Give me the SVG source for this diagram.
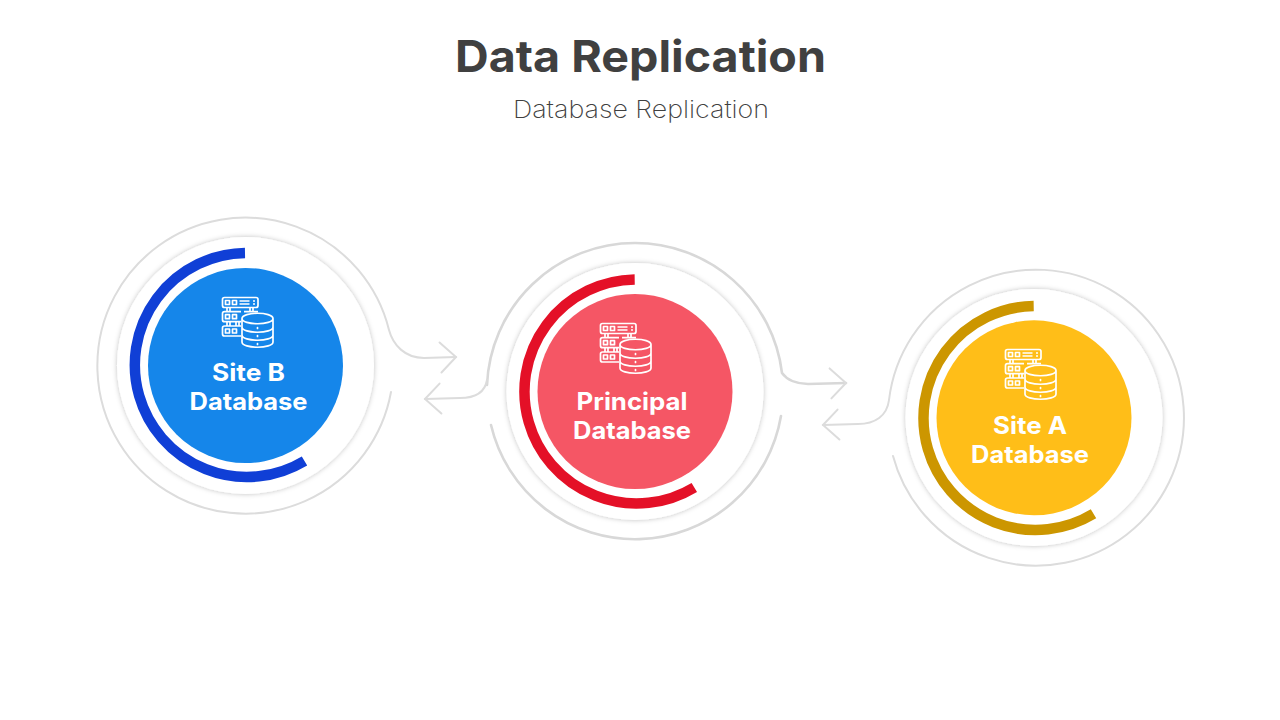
<svg xmlns="http://www.w3.org/2000/svg" width="1280" height="720" viewBox="0 0 1280 720">
<style>
.title{font:700 44px Inter,"Liberation Sans",sans-serif;fill:#404040;text-anchor:middle}
.sub{font:200 24px Inter,"Liberation Sans",sans-serif;fill:#404040;text-anchor:middle}
.lbl{font:700 24px Inter,"Liberation Sans",sans-serif;fill:#fff;text-anchor:middle}
.conn{fill:none;stroke:#dcdcdc;stroke-width:2;stroke-linecap:round}
.heavy{stroke-width:2.6;stroke:#d8d8d8}
.arc{fill:none;stroke-width:10.500}
.disc{fill:#fff;filter:url(#sh)}
.ic{fill:none;stroke:#fff;stroke-width:1.7;stroke-linejoin:round}
</style>
<defs>
<filter id="sh" x="-20%" y="-20%" width="140%" height="140%"><feDropShadow dx="0" dy="0" stdDeviation="2.500" flood-color="#000" flood-opacity=".25"/></filter>
<marker id="chev" markerUnits="userSpaceOnUse" markerWidth="40" markerHeight="40" viewBox="-20 -20 40 40" refX="0" refY="0" orient="auto" overflow="visible"><path d="M-16-15 0 0-15 15" fill="none" stroke="#dcdcdc" stroke-width="2" stroke-linecap="round"/></marker>
<g id="icon" class="ic">
<rect x="222.500" y="297.500" width="35.500" height="10" rx="2"/>
<path d="M241 311.700H224.500a2 2 0 0 0-2 2v6a2 2 0 0 0 2 2H241M258 311.700H244"/>
<path d="M241 326H224.500a2 2 0 0 0-2 2v6a2 2 0 0 0 2 2H241"/>
<path d="M227 307.500v4M230 307.500v4M250 307.500v4M253 307.500v4M227 321.700v4.300M230 321.700v4.300M236 321.700v4.300M239 321.700v4.300"/>
<path d="M225.500 300.500h4v4h-4zM232.500 300.500h4v4h-4zM225.500 314.700h4v4h-4zM232.500 314.700h4v4h-4zM225.500 329h4v4h-4zM232.500 329h4v4h-4zM239.500 301h10M239.500 304h10M253 301h2M253 304h2"/>
<path d="M242 318.500c0-7 31-7 31 0v23.500c0 7-31 7-31 0zM242 318.500c0 7 31 7 31 0M242 327c0 7 31 7 31 0M242 335c0 7 31 7 31 0"/>
<path d="M257.500 327.500v1M257.500 335.500v1M257.500 343.500v1" stroke-linecap="round"/>
</g>
</defs>
<rect width="1280" height="720" fill="#fff"/>
<text class="title" x="640.500" y="72" textLength="371" lengthAdjust="spacingAndGlyphs">Data Replication</text>
<text class="sub" x="641" y="118" textLength="256" lengthAdjust="spacingAndGlyphs">Database Replication</text>
<g id="connectors">
<path class="conn" d="M391 392A148 148 0 1 1 389 330C393 345 405 358 424 358L456 357" marker-end="url(#chev)"/>
<path class="conn heavy" d="M487 385A148 148 0 0 1 635 243A148 148 0 0 1 782 373C787 380 797 384 808 384L846 383" marker-end="url(#chev)"/>
<path class="conn heavy" d="M781 416A148 148 0 0 1 491 425"/>
<path class="conn" d="M487 380C485 392 475 398 460 398L425 399" marker-end="url(#chev)"/>
<path class="conn" d="M893 456A148 148 0 1 0 889 400C887 416 875 424 858 424L823 425" marker-end="url(#chev)"/>
</g>
<g id="site-b">
<circle class="disc" cx="245.500" cy="365.500" r="128.500"/>
<path class="arc" stroke="#103FD6" d="M245 253A112 112 0 1 0 304.500 461"/>
<circle cx="245.500" cy="365.500" r="97.500" fill="#1586EA"/>
<use href="#icon"/>
<text class="lbl" x="248.500" y="381" textLength="73" lengthAdjust="spacingAndGlyphs">Site B</text>
<text class="lbl" x="248.500" y="410" textLength="118" lengthAdjust="spacingAndGlyphs">Database</text>
</g>
<g id="principal">
<circle class="disc" cx="635" cy="391.500" r="128.500"/>
<path class="arc" stroke="#E41027" d="M634.700 279.500A112 112 0 1 0 694.300 487.400"/>
<circle cx="635" cy="391.500" r="97.500" fill="#F55665"/>
<use href="#icon" x="378" y="26"/>
<text class="lbl" x="632" y="410" textLength="111" lengthAdjust="spacingAndGlyphs">Principal</text>
<text class="lbl" x="632" y="439" textLength="118" lengthAdjust="spacingAndGlyphs">Database</text>
</g>
<g id="site-a">
<circle class="disc" cx="1034" cy="417.500" r="128.500"/>
<path class="arc" stroke="#CC9600" d="M1033.700 306A112 112 0 1 0 1093.500 513.800"/>
<circle cx="1034" cy="417.800" r="97.500" fill="#FFBE18"/>
<use href="#icon" x="783" y="52"/>
<text class="lbl" x="1030" y="434" textLength="74" lengthAdjust="spacingAndGlyphs">Site A</text>
<text class="lbl" x="1030" y="463" textLength="118" lengthAdjust="spacingAndGlyphs">Database</text>
</g>
</svg>
